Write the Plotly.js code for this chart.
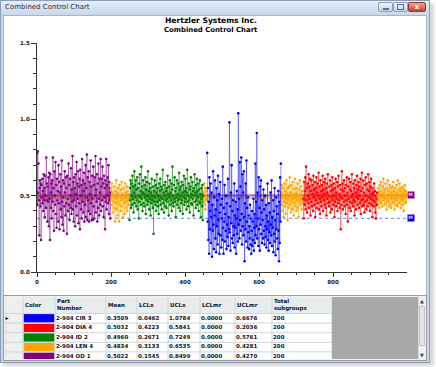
<!DOCTYPE html>
<html><head><meta charset="utf-8">
<script src="https://cdn.plot.ly/plotly-3.0.1.min.js"></script>
<style>
body{margin:0;background:#fff;}
#wrap{position:relative;width:436px;height:367px;overflow:hidden;background:#fff;font-family:'DejaVu Sans',sans-serif;}
.a{position:absolute;box-sizing:border-box;}
</style></head><body>
<div id="wrap">
  <!-- window shadow + frame -->
  <div class="a" style="left:3px;top:3px;width:431px;height:363px;background:#d8d8d8;filter:blur(1.5px);"></div>
  <div class="a" style="left:0;top:0;width:430px;height:363px;background:#c8d7ea;border:1px solid #8c9db5;"></div>
  <div class="a" style="left:1px;top:1px;width:428px;height:14px;background:linear-gradient(#e6eef8,#c8d7ea);"></div>
  <div class="a" style="left:5px;top:1px;font-size:7px;line-height:13px;color:#1e2f4a;">Combined Control Chart</div>
  <div class="a" style="left:378px;top:2px;width:15px;height:10px;background:linear-gradient(#eef3fa,#c5d4e8);border:1px solid #8c9db5;border-radius:2px;"></div>
  <div class="a" style="left:383px;top:8px;width:6px;height:2px;background:#5a6f8f;"></div>
  <div class="a" style="left:393px;top:2px;width:15px;height:10px;background:linear-gradient(#eef3fa,#c5d4e8);border:1px solid #8c9db5;border-radius:2px;"></div>
  <div class="a" style="left:397px;top:4px;width:7px;height:6px;border:1px solid #5a6f8f;"></div>
  <div class="a" style="left:408px;top:2px;width:18px;height:10px;background:linear-gradient(#e9a89a,#c8412c);border:1px solid #8b3a2c;border-radius:2px;color:#fff;font-size:7px;line-height:8px;text-align:center;font-weight:bold;">x</div>
  <!-- client area -->
  <div class="a" style="left:3px;top:15px;width:424px;height:346px;background:#fff;border:1px solid #a7b5c8;"></div>
  <!-- table panel -->
  <div class="a" style="left:3px;top:295px;width:424px;height:66px;background:#f2f2f2;border:1px solid #9a9a9a;"></div>
  <div class="a" style="left:332px;top:297px;width:86px;height:62px;background:#a8a8a8;"></div>
  <div class="a" style="left:418px;top:297px;width:8px;height:62px;background:#f0f0f0;border-left:1px solid #d8d8d8;"></div>
  <div class="a" style="left:419px;top:298px;width:6px;height:6px;font-size:5px;line-height:6px;text-align:center;color:#444;">&#9650;</div>
  <div class="a" style="left:419px;top:306px;width:6px;height:40px;background:#e4e4e4;border:1px solid #c2c2c2;border-radius:1px;"></div>
  <div class="a" style="left:419px;top:352px;width:6px;height:6px;font-size:5px;line-height:6px;text-align:center;color:#444;">&#9660;</div>
  <div id="chart" class="a" style="left:0;top:0;width:436px;height:367px;"></div>
</div>
<script>
// ---------- chart data (subgroup values) ----------
const purpleVals = [
0.78,0.44,0.79,0.52,0.71,0.47,0.24,0.55,0.60,0.43,
0.58,0.21,0.57,0.49,0.61,0.45,0.53,0.40,0.64,0.47,
0.55,0.36,0.63,0.50,0.42,0.75,0.47,0.58,0.33,0.56,
0.46,0.62,0.30,0.65,0.48,0.21,0.64,0.52,0.42,0.58,
0.35,0.60,0.46,0.75,0.40,0.55,0.27,0.66,0.50,0.44,
0.72,0.38,0.57,0.29,0.61,0.47,0.53,0.33,0.70,0.45,
0.59,0.28,0.52,0.64,0.41,0.56,0.36,0.73,0.46,0.31,
0.60,0.49,0.27,0.58,0.43,0.66,0.52,0.37,0.62,0.45,
0.55,0.25,0.63,0.48,0.40,0.71,0.44,0.57,0.34,0.61,
0.50,0.42,0.68,0.38,0.54,0.46,0.76,0.41,0.59,0.33,
0.62,0.47,0.55,0.30,0.64,0.51,0.43,0.72,0.37,0.58,
0.48,0.66,0.32,0.56,0.45,0.61,0.28,0.67,0.50,0.41,
0.57,0.35,0.74,0.46,0.60,0.39,0.53,0.65,0.33,0.58,
0.44,0.70,0.36,0.55,0.49,0.77,0.34,0.62,0.47,0.40,
0.66,0.33,0.59,0.51,0.38,0.73,0.45,0.56,0.34,0.63,
0.48,0.34,0.69,0.43,0.57,0.35,0.62,0.50,0.76,0.39,
0.54,0.46,0.64,0.33,0.58,0.42,0.71,0.48,0.37,0.61,
0.52,0.44,0.74,0.40,0.56,0.61,0.47,0.69,0.43,0.58,
0.36,0.63,0.49,0.55,0.28,0.60,0.46,0.74,0.41,0.57,
0.50,0.62,0.45,0.70,0.38,0.59,0.47,0.55,0.35,0.52];
const orangeValsA = [
0.55,0.47,0.58,0.44,0.52,0.39,0.50,0.46,0.56,0.42,
0.49,0.33,0.53,0.45,0.60,0.41,0.48,0.52,0.37,0.55,
0.46,0.50,0.33,0.57,0.44,0.49,0.40,0.54,0.47,0.59,
0.43,0.51,0.36,0.48,0.55,0.45,0.50,0.38,0.58,0.46,
0.52,0.42,0.49,0.56,0.40,0.53,0.47,0.44,0.51,0.48];
const greenVals = [
0.34,0.55,0.47,0.60,0.42,0.58,0.50,0.44,0.63,0.48,
0.56,0.39,0.52,0.66,0.45,0.57,0.49,0.60,0.43,0.54,
0.47,0.62,0.41,0.55,0.50,0.35,0.58,0.46,0.64,0.49,
0.53,0.44,0.69,0.48,0.56,0.40,0.52,0.60,0.45,0.51,
0.43,0.57,0.49,0.62,0.38,0.54,0.47,0.59,0.44,0.50,
0.66,0.46,0.53,0.41,0.58,0.48,0.55,0.37,0.52,0.45,
0.61,0.47,0.50,0.42,0.56,0.25,0.53,0.46,0.60,0.49,
0.44,0.57,0.40,0.52,0.64,0.46,0.55,0.43,0.50,0.38,
0.58,0.47,0.53,0.61,0.44,0.49,0.56,0.41,0.54,0.48,
0.67,0.45,0.52,0.39,0.57,0.50,0.43,0.59,0.47,0.53,
0.42,0.55,0.48,0.63,0.46,0.51,0.37,0.56,0.49,0.60,
0.44,0.52,0.47,0.58,0.40,0.54,0.69,0.45,0.50,0.43,
0.57,0.48,0.62,0.46,0.53,0.36,0.55,0.49,0.60,0.44,
0.51,0.47,0.58,0.42,0.65,0.48,0.54,0.40,0.56,0.50,
0.45,0.59,0.47,0.52,0.38,0.57,0.49,0.63,0.44,0.53,
0.46,0.61,0.48,0.55,0.41,0.52,0.67,0.46,0.50,0.43,
0.58,0.47,0.54,0.39,0.56,0.49,0.62,0.45,0.51,0.44,
0.59,0.48,0.53,0.37,0.55,0.50,0.64,0.46,0.52,0.42,
0.57,0.47,0.61,0.44,0.53,0.49,0.58,0.40,0.54,0.46,
0.60,0.45,0.51,0.36,0.55,0.48,0.43,0.57,0.34,0.50];
const orangeValsB = [0.52,0.46,0.58,0.44,0.50,0.41,0.55,0.48,0.53,0.47];
const blueVals = [
0.78,0.33,0.55,0.21,0.46,0.12,0.62,0.28,0.40,0.58,
0.19,0.36,0.52,0.10,0.44,0.27,0.66,0.31,0.15,0.49,
0.37,0.60,0.22,0.41,0.13,0.55,0.30,0.47,0.18,0.63,
0.34,0.25,0.51,0.12,0.39,0.59,0.24,0.44,0.16,0.35,
0.48,0.21,0.69,0.29,0.12,0.42,0.33,0.57,0.20,0.38,
0.27,0.50,0.15,0.45,0.31,0.23,0.61,0.17,0.36,0.28,
0.98,0.26,0.43,0.14,0.52,0.32,0.70,0.22,0.40,0.19,
0.47,0.30,0.24,0.58,0.16,0.37,0.29,0.46,0.12,0.35,
0.53,0.25,0.41,0.20,1.04,0.31,0.48,0.22,0.72,0.34,
0.56,0.27,0.75,0.38,0.18,0.64,0.30,0.52,0.24,0.66,
0.36,0.07,0.45,0.28,0.58,0.20,0.73,0.33,0.42,0.16,
0.49,0.26,0.37,0.15,0.30,0.22,0.44,0.18,0.35,0.12,
0.27,0.40,0.17,0.33,0.21,0.48,0.14,0.29,0.38,0.19,
0.71,0.24,0.46,0.30,0.91,0.22,0.52,0.35,0.17,0.62,
0.28,0.42,0.14,0.56,0.31,0.60,0.25,0.39,0.19,0.47,
0.34,0.22,0.54,0.27,0.41,0.18,0.50,0.30,0.23,0.44,
0.16,0.37,0.28,0.58,0.21,0.33,0.14,0.45,0.26,0.39,
0.19,0.52,0.31,0.24,0.60,0.17,0.36,0.29,0.47,0.13,
0.40,0.25,0.55,0.20,0.34,0.11,0.49,0.28,0.43,0.22,
0.38,0.15,0.53,0.27,0.07,0.46,0.19,0.62,0.33,0.71];
const orangeValsC = [
0.52,0.44,0.57,0.40,0.49,0.55,0.36,0.50,0.46,0.58,
0.43,0.53,0.38,0.48,0.60,0.45,0.51,0.34,0.55,0.47,
0.42,0.56,0.49,0.62,0.44,0.52,0.39,0.57,0.46,0.50,
0.41,0.59,0.48,0.54,0.37,0.51,0.45,0.61,0.43,0.49,
0.55,0.40,0.52,0.47,0.58,0.42,0.50,0.36,0.54,0.46,
0.60,0.44,0.51,0.48,0.56,0.41,0.53,0.45,0.49,0.47];
const redVals = [
0.48,0.35,0.59,0.44,0.53,0.62,0.41,0.69,0.47,0.55,
0.39,0.58,0.50,0.45,0.64,0.42,0.56,0.48,0.61,0.37,
0.53,0.46,0.60,0.43,0.51,0.57,0.40,0.63,0.49,0.54,
0.44,0.59,0.36,0.55,0.47,0.62,0.42,0.52,0.58,0.45,
0.50,0.65,0.41,0.56,0.48,0.38,0.60,0.46,0.53,0.43,
0.57,0.49,0.63,0.40,0.54,0.47,0.59,0.44,0.51,0.61,
0.42,0.55,0.37,0.58,0.48,0.52,0.64,0.45,0.50,0.43,
0.56,0.46,0.60,0.39,0.53,0.49,0.57,0.41,0.62,0.47,
0.54,0.44,0.58,0.50,0.36,0.55,0.46,0.61,0.43,0.52,
0.48,0.59,0.40,0.56,0.45,0.63,0.47,0.51,0.42,0.57,
0.49,0.28,0.54,0.44,0.66,0.48,0.58,0.41,0.53,0.46,
0.60,0.43,0.55,0.50,0.38,0.57,0.47,0.62,0.44,0.52,
0.33,0.56,0.48,0.61,0.42,0.54,0.46,0.59,0.40,0.53,
0.49,0.64,0.45,0.51,0.43,0.58,0.47,0.55,0.37,0.60,
0.46,0.52,0.41,0.57,0.49,0.63,0.44,0.54,0.48,0.59,
0.42,0.56,0.50,0.45,0.61,0.38,0.53,0.47,0.65,0.43,
0.55,0.48,0.60,0.44,0.52,0.39,0.57,0.46,0.62,0.50,
0.41,0.58,0.47,0.54,0.43,0.64,0.49,0.53,0.45,0.59,
0.40,0.56,0.48,0.61,0.44,0.51,0.36,0.55,0.47,0.52,
0.43,0.58,0.46,0.53,0.39,0.50,0.35,0.48,0.44,0.52];
const orangeValsD = [
0.50,0.44,0.55,0.47,0.52,0.42,0.57,0.48,0.53,0.45,
0.59,0.46,0.51,0.43,0.56,0.49,0.61,0.47,0.52,0.44,
0.54,0.48,0.58,0.45,0.50,0.41,0.55,0.47,0.60,0.46,
0.53,0.43,0.51,0.57,0.44,0.49,0.55,0.42,0.52,0.48,
0.56,0.45,0.50,0.59,0.46,0.53,0.41,0.55,0.48,0.51,
0.44,0.57,0.47,0.52,0.43,0.60,0.49,0.54,0.45,0.50,
0.58,0.46,0.53,0.42,0.55,0.48,0.51,0.44,0.56,0.47,
0.52,0.40,0.54,0.49,0.57,0.45,0.50,0.53,0.46,0.51];
// first subgroup number of each run
const purpleStart = 0, greenStart = 250, blueStart = 460, redStart = 720;
const orangeStarts = [200, 450, 660, 920];

// ---------- table data ----------
const tableHeaders = ['Color', 'Part<br>Number', 'Mean', 'LCLx', 'UCLx', 'LCLmr', 'UCLmr', 'Total<br>subgroups'];
const partNumbers = ['2-904 CIR 3', '2-904 DIA 4', '2-904 ID 2', '2-904 LEN 4', '2-904 OD 1'];
const partColors  = ['#0000ff', '#ff0000', '#008000', '#ffa500', '#800080'];
const means  = [0.3509, 0.5032, 0.4960, 0.4834, 0.5022];
const lclx   = [0.0462, 0.4223, 0.2671, 0.3133, 0.1545];
const uclx   = [1.0784, 0.5841, 0.7249, 0.6535, 0.8499];
const lclmr  = [0.0000, 0.0000, 0.0000, 0.0000, 0.0000];
const uclmr  = [0.6676, 0.2036, 0.5761, 0.4281, 0.4270];
const totals = [200, 200, 200, 200, 200];
// parts whose "M" mean tag is visible at the right end (others are hidden under the purple one)
const mTagParts = [0, 4];

// ---------- build ----------
function rgba(hex, a) {
  const n = parseInt(hex.slice(1), 16);
  return 'rgba(' + (n >> 16) + ',' + ((n >> 8) & 255) + ',' + (n & 255) + ',' + a + ')';
}
function run(vals, start) { return { x: vals.map((v, i) => start + i), y: vals.slice() }; }
function series(name, color, runs) {
  const x = [], y = [];
  runs.forEach((r, k) => { if (k) { x.push(null); y.push(null); } x.push(...r.x); y.push(...r.y); });
  return { type: 'scatter', mode: 'lines+markers', name: name, x: x, y: y, connectgaps: false,
    line: { color: rgba(color, 0.42), width: 1 }, marker: { color: color, size: 2.6 },
    hoverinfo: 'skip', showlegend: false, cliponaxis: true };
}
const traces = [];
// mean lines
const lineOrder = [0, 3, 2, 1, 4];
lineOrder.forEach(i => {
  const blue = i === 0;
  traces.push({ type: 'scatter', mode: 'lines', x: [0, 1000], y: [means[i], means[i]],
    line: { color: blue ? 'rgba(90,120,255,0.75)' : rgba(partColors[i], i === 3 ? 0.6 : 0.3),
            width: blue ? 1.2 : 2, dash: blue ? 'dot' : 'solid' },
    hoverinfo: 'skip', showlegend: false });
});
traces.push(series('2-904 OD 1', partColors[4], [run(purpleVals, purpleStart)]));
traces.push(series('2-904 LEN 4', partColors[3], [
  run(orangeValsA, orangeStarts[0]), run(orangeValsB, orangeStarts[1]),
  run(orangeValsC, orangeStarts[2]), run(orangeValsD, orangeStarts[3])]));
traces.push(series('2-904 ID 2', partColors[2], [run(greenVals, greenStart)]));
traces.push(series('2-904 CIR 3', partColors[0], [run(blueVals, blueStart)]));
traces.push(series('2-904 DIA 4', partColors[1], [run(redVals, redStart)]));

// ----- table drawn on its own pixel-unit axes -----
const colEdges = [5, 23, 55, 106, 137, 168, 200, 235, 272, 332];
const headTop = 297, headBottom = 313.5, rowH = 9.6;
const rowEdge = k => headBottom + k * rowH;
const cellFont = { family: 'DejaVu Sans', size: 5.5, color: '#111122', weight: 'bold' };
const shapes = [];
const tx = () => ({ xref: 'x2', yref: 'y2', layer: 'below' });
// fills
shapes.push(Object.assign(tx(), { type: 'rect', x0: colEdges[1], x1: colEdges[9], y0: headTop, y1: headBottom, fillcolor: '#e7ecec', line: { width: 0 } }));
shapes.push(Object.assign(tx(), { type: 'rect', x0: colEdges[0], x1: colEdges[1], y0: headTop, y1: 362, fillcolor: '#eef0f0', line: { width: 0 } }));
shapes.push(Object.assign(tx(), { type: 'rect', x0: colEdges[1], x1: colEdges[9], y0: headBottom, y1: 362, fillcolor: '#ffffff', line: { width: 0 } }));
partColors.forEach((c, i) => {
  shapes.push(Object.assign(tx(), { type: 'rect', x0: colEdges[1] + 0.5, x1: colEdges[2] - 0.5,
    y0: rowEdge(i) + 0.6, y1: rowEdge(i + 1) - 0.6, fillcolor: c, line: { width: 0 } }));
});
// grid
for (let k = 0; k <= partNumbers.length; k++) {
  shapes.push(Object.assign(tx(), { type: 'line', x0: colEdges[0], x1: colEdges[9], y0: rowEdge(k), y1: rowEdge(k), line: { color: '#cfd4d4', width: 1 } }));
}
colEdges.forEach(e => {
  shapes.push(Object.assign(tx(), { type: 'line', x0: e, x1: e, y0: headTop, y1: 362, line: { color: '#d2d6d6', width: 1 } }));
});
// header text
traces.push({ type: 'scatter', mode: 'text', xaxis: 'x2', yaxis: 'y2',
  x: tableHeaders.map((h, j) => colEdges[j + 1] + 2), y: tableHeaders.map(() => (headTop + headBottom) / 2),
  text: tableHeaders, textposition: 'middle right', textfont: cellFont, hoverinfo: 'skip', showlegend: false });
// body text
const colsText = [partNumbers, means.map(v => v.toFixed(4)), lclx.map(v => v.toFixed(4)), uclx.map(v => v.toFixed(4)),
  lclmr.map(v => v.toFixed(4)), uclmr.map(v => v.toFixed(4)), totals.map(String)];
const bx = [], by = [], bt = [];
colsText.forEach((col, j) => col.forEach((t, i) => { bx.push(colEdges[j + 2] + 1); by.push(rowEdge(i) + rowH / 2); bt.push(t); }));
traces.push({ type: 'scatter', mode: 'text', xaxis: 'x2', yaxis: 'y2', x: bx, y: by, text: bt,
  textposition: 'middle right', textfont: cellFont, hoverinfo: 'skip', showlegend: false, cliponaxis: true });
// current-row arrow
traces.push({ type: 'scatter', mode: 'text', xaxis: 'x2', yaxis: 'y2', x: [colEdges[0] + 0.5], y: [rowEdge(0) + rowH / 2],
  text: ['\u25B8'], textposition: 'middle right', textfont: { family: 'DejaVu Sans', size: 6, color: '#000' }, hoverinfo: 'skip', showlegend: false });

// titles + "M" tags at the right end of the mean lines
const annotations = [
  { xref: 'paper', yref: 'paper', x: 211 / 436, y: 1 - 21 / 367, text: 'Hertzler Systems Inc.', showarrow: false,
    font: { family: 'DejaVu Sans', size: 7.6, color: '#000', weight: 'bold' }, xanchor: 'center', yanchor: 'middle' },
  { xref: 'paper', yref: 'paper', x: 211 / 436, y: 1 - 30.5 / 367, text: 'Combined Control Chart', showarrow: false,
    font: { family: 'DejaVu Sans', size: 6.9, color: '#000', weight: 'bold' }, xanchor: 'center', yanchor: 'middle' }
];
mTagParts.forEach(i => {
  annotations.push({ xref: 'paper', yref: 'y', x: 406.5 / 436, y: means[i], text: 'M', showarrow: false, xanchor: 'left', yanchor: 'middle',
    font: { family: 'DejaVu Sans', size: 4.5, color: i === 0 ? '#d0d8ff' : '#f0c8f0', weight: 'bold' },
    bgcolor: partColors[i], borderpad: 0.3 });
});

const axFont = { family: 'DejaVu Sans', size: 5.6, color: '#222', weight: 'bold' };
const layout = {
  width: 436, height: 367, autosize: false,
  margin: { l: 0, r: 0, t: 0, b: 0, pad: 0 },
  paper_bgcolor: 'rgba(0,0,0,0)', plot_bgcolor: 'rgba(0,0,0,0)',
  showlegend: false,
  xaxis: { domain: [37 / 436, 407 / 436], range: [0, 999.9], tickmode: 'linear', tick0: 0, dtick: 200,
    showline: true, linecolor: '#333', linewidth: 1, ticks: 'outside', ticklen: 4, tickcolor: '#333', tickwidth: 1,
    minor: { ticks: 'outside', ticklen: 2, dtick: 50, tick0: 0, tickcolor: '#333', showgrid: false },
    showgrid: false, zeroline: false, tickfont: axFont, fixedrange: true },
  yaxis: { domain: [(367 - 272) / 367, (367 - 43) / 367], range: [0, 1.5], tickmode: 'linear', tick0: 0, dtick: 0.5, tickformat: '.1f',
    showline: true, linecolor: '#333', linewidth: 1, ticks: 'outside', ticklen: 5, tickcolor: '#333', tickwidth: 1,
    minor: { ticks: 'outside', ticklen: 3, dtick: 0.1, tick0: 0, tickcolor: '#333', showgrid: false },
    showgrid: false, zeroline: false, tickfont: axFont, fixedrange: true },
  xaxis2: { domain: [5 / 436, 332 / 436], range: [5, 332], visible: false, anchor: 'y2', fixedrange: true },
  yaxis2: { domain: [(367 - 359) / 367, (367 - 297) / 367], range: [359, 297], visible: false, anchor: 'x2', fixedrange: true },
  shapes: shapes, annotations: annotations
};
Plotly.newPlot('chart', traces, layout, { displayModeBar: false, staticPlot: true });
</script>
</body></html>
